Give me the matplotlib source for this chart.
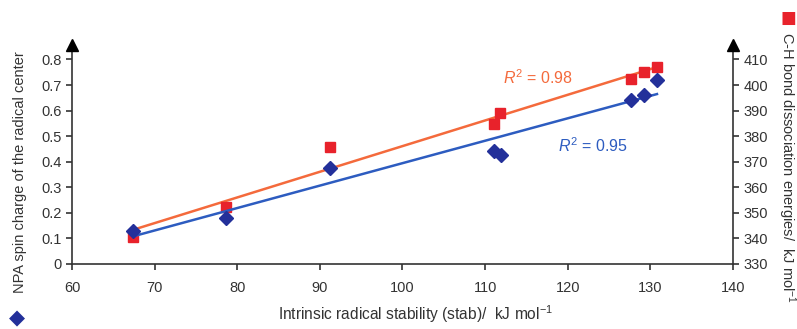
import matplotlib

matplotlib.use("Agg")
import matplotlib.pyplot as plt  # noqa: E402
import numpy as np  # noqa: E402
from matplotlib.ticker import FuncFormatter  # noqa: E402

plt.rcParams["font.family"] = ["Liberation Sans", "DejaVu Sans"]
plt.rcParams["mathtext.fontset"] = "custom"
plt.rcParams["mathtext.rm"] = "Liberation Sans"
plt.rcParams["mathtext.it"] = "Liberation Sans:italic"

# intrinsic radical stability (stab), kJ/mol
stab = [67.4, 78.6, 91.2, 111.1, 111.9, 127.6, 129.2, 130.8]
# NPA spin charge of the radical center (left axis, diamonds)
spin = [0.13, 0.18, 0.376, 0.44, 0.428, 0.64, 0.66, 0.72]
# C-H bond dissociation energies, kJ/mol (right axis, squares)
stab_bde = [67.4, 78.6, 91.2, 111.1, 111.8, 127.6, 129.2, 130.8]
bde = [340.5, 352.4, 375.7, 384.7, 389.0, 402.2, 405.2, 407.0]

xticks = [60, 70, 80, 90, 100, 110, 120, 130, 140]
left_ticks = [0, 0.1, 0.2, 0.3, 0.4, 0.5, 0.6, 0.7, 0.8]
right_ticks = [330, 340, 350, 360, 370, 380, 390, 400, 410]

AX_COL = "#333333"
BLUE_PT = "#23309a"
BLUE_LN = "#2d5cc0"
RED_PT = "#e8222b"
ORANGE_LN = "#f46a3c"

fig = plt.figure(figsize=(7.97, 3.29), dpi=100)
ax = fig.add_axes([0.0903, 0.1976, 0.8294, 0.666])
ax2 = ax.twinx()

ax.set_xlim(60, 140)
ax.set_ylim(0, 0.857)
ax2.set_ylim(330, 330 + 100 * 0.857)

# linear fits
x_lo, x_hi = min(stab), max(stab)
fx = np.array([x_lo, x_hi])
pb = np.polyfit(stab, spin, 1)
pr = np.polyfit(stab_bde, bde, 1)

ax2.plot(fx, np.polyval(pr, fx), color=ORANGE_LN, lw=1.8, zorder=2)
ax.plot(fx, np.polyval(pb, fx), color=BLUE_LN, lw=1.8, zorder=2)
ax2.plot(stab_bde, bde, ls="none", marker="s", ms=7, color=RED_PT, zorder=3)
ax.plot(stab, spin, ls="none", marker="D", ms=7, color=BLUE_PT, zorder=4)
ax.set_zorder(ax2.get_zorder() + 1)
ax.patch.set_visible(False)

ax.text(112.2, 0.729, r"$R^2$ = 0.98", color=ORANGE_LN, fontsize=11.5,
        va="center", ha="left")
ax.text(118.8, 0.463, r"$R^2$ = 0.95", color=BLUE_LN, fontsize=11.5,
        va="center", ha="left")

for a in (ax, ax2):
    for s in a.spines.values():
        s.set_color(AX_COL)
        s.set_linewidth(1.2)
    a.spines["top"].set_visible(False)
    a.tick_params(colors=AX_COL, labelsize=10.5, length=4, width=1.2)
ax.spines["right"].set_visible(False)
ax2.spines["left"].set_visible(False)
ax2.spines["bottom"].set_visible(False)

ax.set_xticks(xticks)
ax.set_yticks(left_ticks)
ax.yaxis.set_major_formatter(FuncFormatter(lambda v, p: "0" if v == 0 else f"{v:.1f}"))
ax2.set_yticks(right_ticks)
ax.tick_params(axis="x", pad=8)

# arrow heads on the two vertical axes
for xa in (0, 1):
    ax.plot([xa], [1.0], marker="^", ms=8, color="black", transform=ax.transAxes,
            clip_on=False, zorder=5)

fig.text(416 / 797, 1 - 320 / 329, r"Intrinsic radical stability (stab)/  kJ mol$^{-1}$",
         ha="center", va="baseline", fontsize=11.2, color=AX_COL)

# axis titles with series markers
fig.text(20 / 797, 1 - 172 / 329, "NPA spin charge of the radical center",
         rotation=90, ha="center", va="center", fontsize=10.5, color=AX_COL)
fig.text(17 / 797, 1 - 318 / 329, "\u25c6", color=BLUE_PT, fontsize=15,
         ha="center", va="center", family="DejaVu Sans")
fig.text(787 / 797, 1 - 32 / 329, r"C-H bond dissociation energies/  kJ mol$^{-1}$",
         rotation=-90, ha="center", va="top", fontsize=10.5, color=AX_COL)
fig.text(788 / 797, 1 - 18 / 329, "\u25a0", color=RED_PT, fontsize=12,
         ha="center", va="center", family="DejaVu Sans")

fig.savefig("out.png", dpi=100)
